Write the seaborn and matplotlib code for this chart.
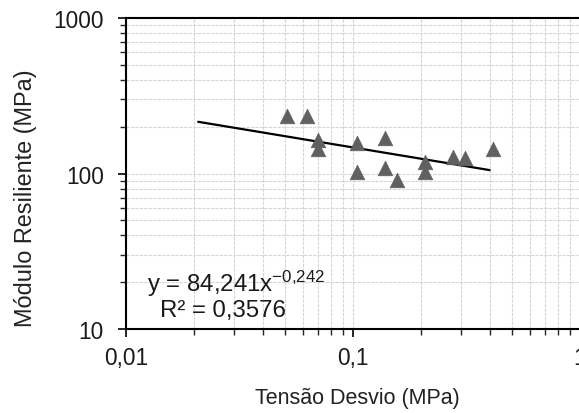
import numpy as np
import pandas as pd
import matplotlib
matplotlib.use('Agg')
import matplotlib.pyplot as plt
import seaborn as sns
from matplotlib.ticker import LogLocator, NullFormatter

# data
tensao = [0.051, 0.0625, 0.070, 0.070, 0.104, 0.104, 0.138, 0.138, 0.156, 0.207, 0.207, 0.275, 0.311, 0.415]
modulo = [235, 236, 165, 144, 157, 102, 168, 108, 91, 118, 102, 128, 125, 144]
coef_a = 84.241
coef_b = -0.242
r2 = 0.3576
trend_x = [0.0208, 0.03, 0.05, 0.1, 0.2, 0.3, 0.4]

df = pd.DataFrame({'Tensao': tensao, 'Modulo': modulo})
df_trend = pd.DataFrame({'x': trend_x})
df_trend['y'] = coef_a * df_trend['x'] ** coef_b

sns.set_style('white')
plt.rcParams['font.family'] = ['Liberation Sans', 'DejaVu Sans']
plt.rcParams['mathtext.fontset'] = 'custom'
plt.rcParams['mathtext.rm'] = 'Liberation Sans'
plt.rcParams['mathtext.it'] = 'Liberation Sans'

fig = plt.figure(figsize=(5.79, 4.14), dpi=100)
ax = fig.add_axes([0.2176, 0.2029, 0.7841, 0.7512])

sns.lineplot(data=df_trend, x='x', y='y', color='black', linewidth=1.6, ax=ax, zorder=3)
sns.scatterplot(data=df, x='Tensao', y='Modulo', marker='^', s=110, color='#606060',
                edgecolor='#606060', linewidth=0.5, ax=ax, zorder=4)

ax.set_xscale('log')
ax.set_yscale('log')
ax.set_xlim(0.01, 1)
ax.set_ylim(10, 1000)

ax.set_xticks([0.01, 0.1, 1])
ax.set_xticklabels(['0,01', '0,1', '1'])
ax.set_yticks([10, 100, 1000])
ax.set_yticklabels(['10', '100', '1000'])
ax.xaxis.set_minor_locator(LogLocator(base=10, subs=np.arange(2, 10)))
ax.yaxis.set_minor_locator(LogLocator(base=10, subs=np.arange(2, 10)))
ax.xaxis.set_minor_formatter(NullFormatter())
ax.yaxis.set_minor_formatter(NullFormatter())

ax.grid(True, which='both', color='#d6d6d6', linestyle=(0, (3, 1)), linewidth=0.8)
ax.set_axisbelow(True)

for side in ['left', 'bottom', 'top']:
    ax.spines[side].set_color('black')
    ax.spines[side].set_linewidth(1.5)
ax.spines['right'].set_visible(False)

ax.tick_params(which='major', direction='out', length=5.5, width=1.2, labelsize=16.3,
               labelcolor='#1a1a1a', color='black', bottom=True, left=True)
ax.tick_params(which='minor', direction='out', length=4.3, width=1, bottom=True, left=True)
ax.tick_params(axis='y', which='major', pad=10.4)
ax.tick_params(axis='x', which='major', pad=6.8)

ax.set_xlabel('Tensão Desvio (MPa)', fontsize=15.5, color='#222222')
ax.xaxis.set_label_coords(0.509, -0.186)
ax.set_ylabel('Módulo Resiliente (MPa)', fontsize=16.9, color='#222222')
ax.yaxis.set_label_coords(-0.196, 0.423)

ax.text(0.01238, 17.56, 'y = 84,241x$^{\\mathrm{-0{,}242}}$', fontsize=17.3, color='#1a1a1a',
        va='baseline')
ax.text(0.01413, 12.12, 'R² = 0,3576', fontsize=17.3, color='#1a1a1a', va='baseline')

fig.savefig('out.png', dpi=100)
